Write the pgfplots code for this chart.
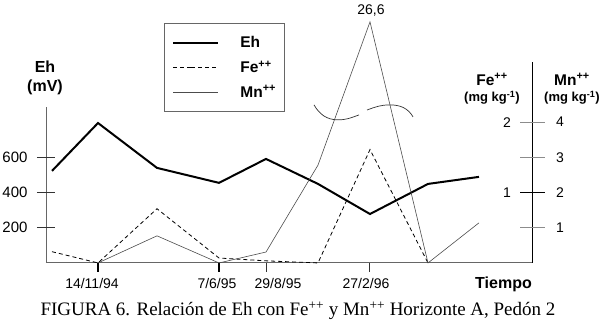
\documentclass[border=0pt]{standalone}
\usepackage{fontspec}
\setmainfont{Liberation Sans}
\newfontfamily\capfont{Liberation Serif}
\usepackage{pgfplots}
\pgfplotsset{compat=1.18}
\usepackage{pgfplotstable}
\newcommand\fs[1]{\fontsize{#1}{#1}\selectfont}

% x = position on the time axis, Eh in mV, Fe and Mn in mg/kg
% (Mn at 370 is 26.6, drawn above the axis break at 6.85)
\pgfplotstableread{
x   Eh   Fe    Mn
52  523  0.16  nan
98  795  0     0
157 540  0.77  0.77
219 455  0.07  0
266 591  0.03  0.31
318 449  0     2.78
370 278  1.61  6.85
428 449  0     0
479 489  nan   1.14
}\datatable

\begin{document}
\begin{tikzpicture}
\begin{axis}[
  x=1pt, y=0.176pt,
  xmin=46, xmax=532, ymin=0, ymax=886,
  axis x line=bottom, axis y line=left,
  axis line style={-, draw=black!60, line width=0.9pt},
  clip=false,
  tick align=outside,
  major tick length=9pt,
  tick style={black!80, line width=1pt},
  xtick={266,369}, xticklabels={},
  extra x ticks={98,219}, extra x tick labels={},
  extra x tick style={major tick style={line width=1.8pt, black}},
  ytick={200,400,600},
  extra y ticks={200,400,600}, extra y tick labels={},
  extra y tick style={tick align=inside},
  yticklabel style={font=\fs{15}, xshift=-6pt},
  /pgf/number format/assume math mode=true,
  legend style={at={(axis cs:164,1364)}, anchor=north west,
    draw=black!60, line width=0.8pt, font=\bfseries\fs{15.5},
    inner xsep=8pt, inner ysep=7.5pt, row sep=0pt, column sep=21pt,
    nodes={inner sep=0pt, minimum height=24.5pt},
    cells={anchor=west}},
  legend image code/.code={\path (0pt,0pt) -- (18pt,0pt); \draw[#1] (18pt,0pt) -- (45pt,0pt);},
]
\addplot[black, line width=2pt] table[x=x, y=Eh] {\datatable};
\addlegendentry{Eh}
\addplot[black, line width=0.8pt, dash pattern=on 4pt off 3pt] table[x=x, y expr=\thisrow{Fe}*400] {\datatable};
\addlegendentry{Fe\textsuperscript{++}}
\addplot[black!70, line width=0.6pt] table[x=x, y expr=\thisrow{Mn}*200] {\datatable};
\addlegendentry{Mn\textsuperscript{++}}

% right axis
\draw[black, line width=0.9pt] (axis cs:532,0) -- (axis cs:532,1142);
\draw[black!45, line width=0.8pt] (axis cs:520,200) -- (axis cs:545,200);
\draw[black!45, line width=0.8pt] (axis cs:520,600) -- (axis cs:545,600);
\draw[black!45, line width=0.8pt] (axis cs:520,800) -- (axis cs:545,800);
\draw[black, line width=1pt] (axis cs:520,400) -- (axis cs:545,400);
\node[font=\fs{14}] at (axis cs:507,800) {2};
\node[font=\fs{14}] at (axis cs:507,400) {1};
\node[font=\fs{14}] at (axis cs:560,800) {4};
\node[font=\fs{14}] at (axis cs:560,600) {3};
\node[font=\fs{14}] at (axis cs:560,400) {2};
\node[font=\fs{14}] at (axis cs:560,200) {1};
\node[anchor=base, font=\bfseries\fs{15.5}] at (axis cs:492,1011) {Fe\textsuperscript{++}};
\node[anchor=base, font=\bfseries\fs{13}] at (axis cs:492,915) {(mg kg\textsuperscript{-1})};
\node[anchor=base, font=\bfseries\fs{15.5}] at (axis cs:572,1011) {Mn\textsuperscript{++}};
\node[anchor=base, font=\bfseries\fs{13}] at (axis cs:572,915) {(mg kg\textsuperscript{-1})};

% left axis title
\node[anchor=base, font=\bfseries\fs{16}] at (axis cs:45,1080) {Eh};
\node[anchor=base, font=\bfseries\fs{16}] at (axis cs:45,972) {(mV)};

% axis break
\draw[black!80, line width=0.7pt] (axis cs:314,898) to[out=-60,in=180] (axis cs:338,813) to[out=0,in=200] (axis cs:359,841);
\draw[black!80, line width=0.7pt] (axis cs:367,869) to[out=20,in=180] (axis cs:390,898) to[out=0,in=120] (axis cs:413,830);
\node[anchor=base, font=\fs{14}] at (axis cs:371,1409) {26,6};

% date labels
\node[anchor=base, font=\fs{14}] at (axis cs:92,-148) {14/11/94};
\node[anchor=base, font=\fs{14}] at (axis cs:217,-148) {7/6/95};
\node[anchor=base, font=\fs{14}] at (axis cs:278,-148) {29/8/95};
\node[anchor=base, font=\fs{14}] at (axis cs:366,-148) {27/2/96};
\node[anchor=base east, inner xsep=0pt, font=\bfseries\fs{16}] at (axis cs:532,-148) {Tiempo};

% caption
\node[anchor=base, font=\capfont\fs{19}] at (axis cs:298,-301) {FIGURA 6. Relación de Eh con Fe\textsuperscript{++} y Mn\textsuperscript{++} Horizonte A, Pedón 2};

\coordinate (bl) at (axis cs:0,-335);
\coordinate (tr) at (axis cs:606,1494);
\end{axis}
\pgfresetboundingbox
\path[use as bounding box] (bl) rectangle (tr);
\end{tikzpicture}
\end{document}
